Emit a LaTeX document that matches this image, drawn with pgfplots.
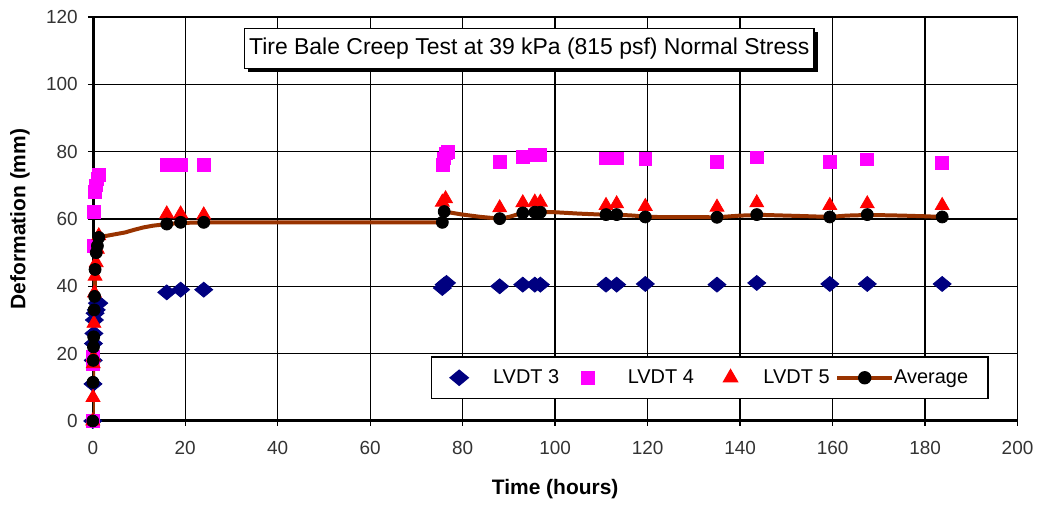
\documentclass[border=0pt]{standalone}
\usepackage{pgfplots}
\pgfplotsset{compat=1.18}
\usepackage{fontspec}
\setmainfont{Liberation Sans}

\definecolor{lvdtthree}{RGB}{0,0,128}
\definecolor{lvdtfour}{RGB}{255,0,255}
\definecolor{lvdtfive}{RGB}{255,0,0}
\definecolor{avgline}{RGB}{153,51,0}

\begin{document}
\begin{tikzpicture}
\begin{axis}[
    scale only axis,
    width=463.5pt, height=202.5pt,
    xmin=0, xmax=200, ymin=0, ymax=120,
    enlargelimits=false,
    xtick={0,20,...,200},
    ytick={0,20,...,120},
    axis line style={draw=none},
    tick align=outside,
    major tick length=2.5pt,
    tick style={black, line width=0.7pt},
    xtick pos=bottom, ytick pos=left,
    grid=major,
    major grid style={black, line width=0.7pt},
    /pgf/number format/assume math mode=true,
    tick label style={font=\fontsize{9.5}{11}\selectfont, color=black!80},
    yticklabel style={xshift=-1.5pt},
    xticklabel style={yshift=-4pt},
    xlabel={\textbf{Time (hours)}},
    ylabel={\textbf{Deformation (mm)}},
    label style={font=\fontsize{10.5}{12}\selectfont},
    xlabel style={at={(axis description cs:0.5,-0.168)}, anchor=center},
    ylabel style={at={(axis description cs:-0.0787,0.5)}, anchor=center},
    legend columns=4,
    legend style={
        at={(0.667,0.107)}, anchor=center,
        draw=black, line width=0.7pt, fill=white,
        font=\fontsize{10}{12}\selectfont,
        nodes={inner sep=0pt, draw=none, fill=none},
        /tikz/column sep=0pt,
        /tikz/every even column/.append style={column sep=0pt},
        /tikz/every odd column/.append style={column sep=0pt},
        inner xsep=0pt, inner ysep=5.5pt,
    },
]

% thick left and bottom axis lines
\draw[black, line width=2pt] (rel axis cs:0,1) -- (rel axis cs:0,0) -- (rel axis cs:1,0);

% average trace (continuous record)
\addplot[avgline, line width=2pt, no markers, forget plot] coordinates {
    (0,0)(0.05,11.5)(0.1,18)(0.15,22)(0.2,25)(0.3,33)(0.4,37)(0.5,45)
    (0.75,50)(1,52)(1.3,54.5)(2,54.8)(3,55)(5,55.5)(7,56)(9,56.8)
    (11,57.5)(13,58)(16,58.5)(19,58.8)(24,59)(75.6,59)(76,62.2)
    (80,61.3)(84,60.6)(88,60.1)(90,60.6)(93,61.8)(96,62)(100,62)
    (105,61.6)(110,61.3)(113,61.3)(117,61)(120,60.6)(135,60.5)
    (140,61)(145,61.2)(155,60.8)(159.4,60.6)(163,61)(168,61.2)
    (175,61)(180,60.8)(183.7,60.6)
};

\addplot[only marks, mark=diamond*, mark size=3.75pt,
    mark options={xscale=1.6, draw=lvdtthree, fill=lvdtthree},
    legend image code/.code={
        \path[draw=none, fill=none] (-14pt,-5pt) rectangle (17pt,5pt);
        \draw[only marks] plot coordinates {(0pt,0pt)};
    }] coordinates {
    (0,0)(0.05,11)(0.1,18)(0.15,23)(0.25,26)(0.35,30)(0.5,32)(0.75,33)
    (1.0,35)(1.3,35)
    (16,38.2)(19,39)(24,39)
    (75.6,39.5)(76,40.5)(76.5,41)
    (88,40)(93,40.5)(95.6,40.5)(96.8,40.5)(111,40.5)(113.3,40.5)
    (119.5,40.7)(135,40.5)(143.6,41)(159.4,40.7)(167.5,40.7)(183.7,40.7)
};
\addlegendentry{\makebox[41pt][l]{LVDT 3}}

\addplot[only marks, mark=square*, mark size=3.2pt,
    mark options={draw=lvdtfour, fill=lvdtfour},
    legend image code/.code={
        \path[draw=none, fill=none] (-6.5pt,-5pt) rectangle (20pt,5pt);
        \draw[only marks] plot coordinates {(0pt,0pt)};
    }] coordinates {
    (0,0)(0.05,17)(0.1,19)(0.2,52)(0.3,62)(0.5,68)(0.7,70)(1.0,72)(1.3,73)
    (16,76)(17.5,76)(19,76)(24,76)
    (75.8,76)(76,78)(76.3,79.5)(76.8,80)
    (88,77)(93,78.4)(95.6,79)(96.8,79)(111,78)(113.3,78)(119.5,77.8)
    (135,77)(143.6,78.3)(159.4,77)(167.5,77.7)(183.7,76.7)
};
\addlegendentry{\makebox[41.5pt][l]{LVDT 4}}

\addplot[only marks, mark=triangle*, mark size=4pt,
    mark options={draw=lvdtfive, fill=lvdtfive},
    legend image code/.code={
        \path[draw=none, fill=none] (-10pt,-5pt) rectangle (16.5pt,5pt);
        \draw[only marks] plot coordinates {(0pt,0pt)};
    }] coordinates {
    (0,0)(0.05,7)(0.1,17)(0.15,19)(0.25,29)(0.35,38)(0.5,43)(0.75,47)
    (1.0,51)(1.3,55)
    (16,61.5)(19,61.5)(24,61.2)
    (75.6,65)(76.3,66)
    (88,63.3)(93,64.8)(95.6,65)(96.8,65)(111,64)(113.3,64.5)(119.5,63.7)
    (135,63.5)(143.6,64.8)(159.4,64)(167.5,64.5)(183.7,64)
};
\addlegendentry{\makebox[36pt][l]{LVDT 5}}

\addplot[only marks, mark=*, mark size=3pt,
    mark options={draw=black, fill=black},
    legend image code/.code={
        \path[draw=none, fill=none] (0pt,-5pt) rectangle (28.5pt,5pt);
        \draw[avgline, line width=2pt] (0pt,0pt) -- (27.5pt,0pt);
        \fill[black] (13.75pt,0pt) circle (3pt);
    }] coordinates {
    (0,0)(0.05,11.5)(0.1,18)(0.15,22)(0.2,25)(0.3,33)(0.4,37)(0.5,45)
    (0.75,50)(1.0,52)(1.3,54.5)
    (16,58.5)(19,59)(24,59)
    (75.6,59)(76,62.2)
    (88,60.1)(93,61.8)(95.6,62)(96.8,62)(111,61.3)(113.3,61.3)(119.5,60.6)
    (135,60.5)(143.6,61.3)(159.4,60.6)(167.5,61.3)(183.7,60.6)
};
\addlegendentry{\makebox[47pt][l]{Average}}

% chart title box with shadow
\node[fill=black, minimum width=285.5pt, minimum height=20pt, inner sep=0pt]
    at ([xshift=2pt, yshift=-2pt]axis cs:94.4,110.7) {};
\node[draw=black, line width=0.7pt, fill=white, minimum width=285.5pt,
    minimum height=20pt, inner sep=0pt, font=\fontsize{11.5}{13}\selectfont]
    at (axis cs:94.4,110.7) {Tire Bale Creep Test at 39 kPa (815 psf) Normal Stress};
\end{axis}
\path ([shift={(-46.5pt,-40pt)}]current axis.south west)
    rectangle ([shift={(10pt,8.5pt)}]current axis.north east);
\end{tikzpicture}
\end{document}
